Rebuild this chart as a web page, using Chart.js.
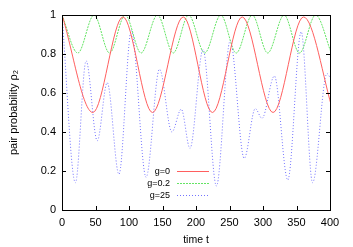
<!DOCTYPE html>
<html>
<head>
<meta charset="utf-8">
<script src="https://cdn.jsdelivr.net/npm/chart.js@4/dist/chart.umd.min.js"></script>
<style>
  html, body { margin: 0; padding: 0; background: #fff; }
  #wrap { width: 353px; height: 247px; }
</style>
</head>
<body>
<div id="wrap"><canvas id="chart" width="353" height="247"></canvas></div>
<script>
// Values (turning points of each curve)
const seriesNames = ['g=0', 'g=0.2', 'g=25'];

const tG0 = [0, 46, 91, 135, 181, 224.5, 269, 315, 360.5, 405];
const pG0 = [1, 0.50, 0.99, 0.50, 0.99, 0.50, 0.99, 0.50, 0.99, 0.50];

const tG02 = [0, 23.6, 47.8, 71, 94.3, 118, 142.5, 166, 189, 213, 237, 260, 284, 307, 331.5, 354.5, 378.5, 402];
const pG02 = [1, 0.805, 1, 0.805, 1, 0.805, 1, 0.805, 1, 0.805, 1, 0.805, 1, 0.805, 1, 0.805, 1, 0.805];

const tG25 = [0, 20, 36, 52.6, 67.5, 85, 103.5, 125.5, 145.5, 164, 178, 191, 210.5, 230.5, 251, 272, 288.5, 298.5, 317, 337, 357, 374, 395.5, 400];
const pG25 = [1, 0.14, 0.765, 0.355, 0.653, 0.183, 0.92, 0.168, 0.722, 0.40, 0.517, 0.316, 0.822, 0.123, 0.868, 0.265, 0.52, 0.47, 0.687, 0.154, 0.914, 0.14, 0.70, 0.68];

const xTicks = [0, 50, 100, 150, 200, 250, 300, 350, 400];
const yTicks = [0, 0.2, 0.4, 0.6, 0.8, 1];

const FONT = '"Liberation Sans", Arial, Helvetica, sans-serif';

function zip(xs, ys) {
    return xs.map((x, i) => ({ x: x, y: ys[i] }));
}

// gnuplot style frame: box round the plot and inward ticks on all four sides
const framePlugin = {
    id: 'frame',
    afterDatasetsDraw(chart) {
        const ctx = chart.ctx;
        const a = chart.chartArea;
        const xs = chart.scales.x;
        const ys = chart.scales.y;
        const len = 4;
        ctx.save();
        ctx.strokeStyle = '#000';
        ctx.lineWidth = 1;
        ctx.beginPath();
        xs.ticks.forEach(t => {
            const px = Math.round(xs.getPixelForValue(t.value)) + 0.5;
            ctx.moveTo(px, a.bottom);
            ctx.lineTo(px, a.bottom - len);
            ctx.moveTo(px, a.top);
            ctx.lineTo(px, a.top + len);
        });
        ys.ticks.forEach(t => {
            const py = Math.round(ys.getPixelForValue(t.value)) + 0.5;
            ctx.moveTo(a.left, py);
            ctx.lineTo(a.left + len, py);
            ctx.moveTo(a.right, py);
            ctx.lineTo(a.right - len, py);
        });
        ctx.stroke();
        ctx.strokeRect(Math.round(a.left) + 0.5, Math.round(a.top) + 0.5,
            Math.round(a.right - a.left), Math.round(a.bottom - a.top));
        ctx.restore();
    }
};

// key inside the plot, text right aligned with a line sample after it
const keyPlugin = {
    id: 'key',
    afterDatasetsDraw(chart) {
        const ctx = chart.ctx;
        const textRight = 170;
        const lineX0 = 177;
        const lineX1 = 209;
        const rowY = [171.5, 183.5, 195.5];
        ctx.save();
        ctx.font = '9px ' + FONT;
        ctx.textAlign = 'right';
        ctx.textBaseline = 'middle';
        chart.data.datasets.forEach((ds, i) => {
            ctx.fillStyle = '#000';
            ctx.fillText(ds.label, textRight, rowY[i]);
            ctx.strokeStyle = ds.borderColor;
            ctx.lineWidth = ds.borderWidth;
            ctx.setLineDash(ds.borderDash || []);
            ctx.beginPath();
            ctx.moveTo(lineX0, rowY[i]);
            ctx.lineTo(lineX1, rowY[i]);
            ctx.stroke();
        });
        ctx.restore();
    }
};

const ctx = document.getElementById('chart').getContext('2d');
const chart = new Chart(ctx, {
    type: 'line',
    data: {
        datasets: [{
            label: seriesNames[0],
            data: zip(tG0, pG0),
            borderColor: 'rgb(255, 95, 95)',
            borderWidth: 1,
            borderDash: [],
        }, {
            label: seriesNames[1],
            data: zip(tG02, pG02),
            borderColor: 'rgb(100, 228, 100)',
            borderWidth: 1,
            borderDash: [2, 1],
        }, {
            label: seriesNames[2],
            data: zip(tG25, pG25),
            borderColor: 'rgb(115, 115, 255)',
            borderWidth: 1,
            borderDash: [1, 2],
        }],
    },
    options: {
        responsive: false,
        animation: false,
        devicePixelRatio: 1,
        layout: {
            padding: { left: 0, right: 23, top: 15, bottom: 0 },
        },
        elements: {
            point: { radius: 0 },
            line: { cubicInterpolationMode: 'monotone', fill: false },
        },
        plugins: {
            legend: { display: false },
            tooltip: { enabled: false },
        },
        scales: {
            x: {
                type: 'linear',
                min: 0,
                max: 400,
                afterBuildTicks: (scale) => { scale.ticks = xTicks.map(v => ({ value: v })); },
                afterFit: (scale) => { scale.height = 37; },
                grid: { display: false, drawTicks: false },
                border: { display: false },
                ticks: {
                    padding: 6,
                    color: '#000',
                    maxRotation: 0,
                    callback: (v) => String(v),
                    font: { family: FONT, size: 11 },
                },
                title: {
                    display: true,
                    text: 'time t',
                    color: '#000',
                    padding: { top: 0, bottom: 1 },
                    font: { family: FONT, size: 10.5 },
                },
            },
            y: {
                type: 'linear',
                min: 0,
                max: 1,
                afterBuildTicks: (scale) => { scale.ticks = yTicks.map(v => ({ value: v })); },
                afterFit: (scale) => { scale.width = 62; },
                grid: { display: false, drawTicks: false },
                border: { display: false },
                ticks: {
                    padding: 6,
                    color: '#000',
                    callback: (v) => String(v),
                    font: { family: FONT, size: 11 },
                },
                title: {
                    display: true,
                    text: 'pair probability ρ₂',
                    color: '#000',
                    padding: { top: 7, bottom: 0 },
                    font: { family: FONT, size: 11 },
                },
            },
        },
    },
    plugins: [framePlugin, keyPlugin],
});
</script>
</body>
</html>
